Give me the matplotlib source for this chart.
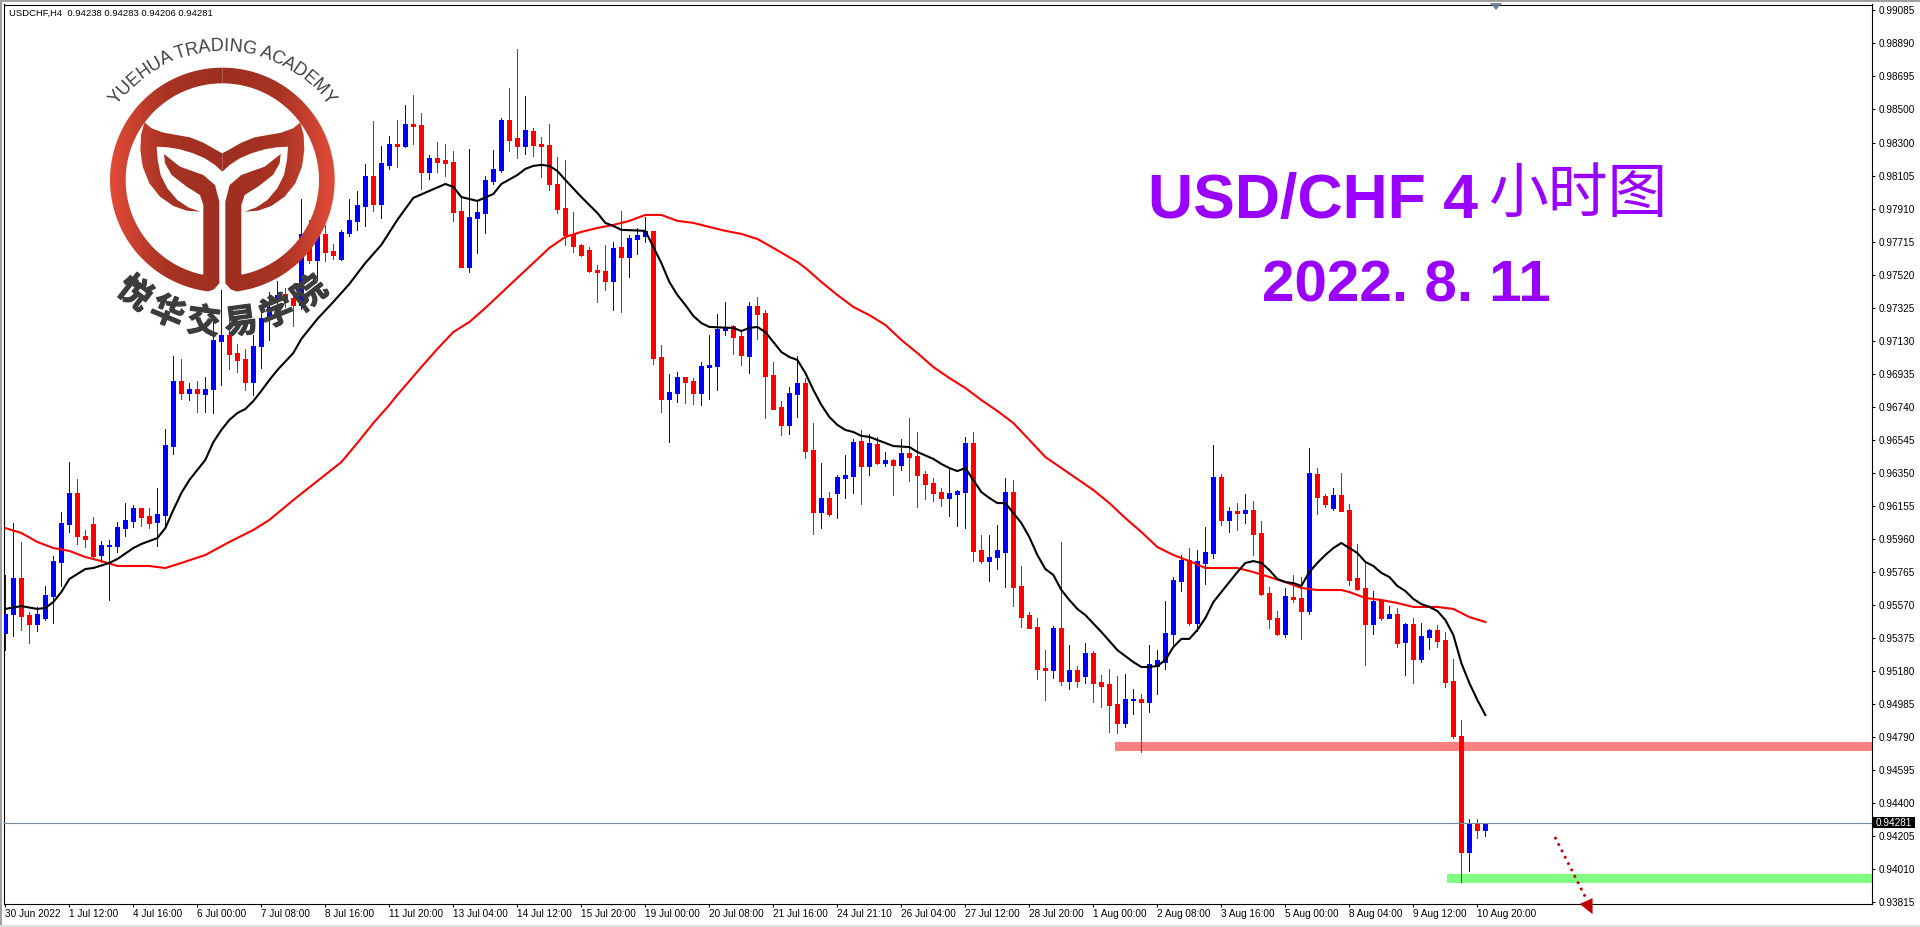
import numpy as np
import matplotlib
matplotlib.use("Agg")
import matplotlib.pyplot as plt
import matplotlib.patheffects as pe
from matplotlib.patches import Polygon, Rectangle
from matplotlib.colors import LinearSegmentedColormap
from matplotlib.textpath import TextPath
from matplotlib.font_manager import FontProperties

# ---- prices, in 1/100000 ----
highs = [95747,96054,95942,95528,95558,95682,95859,96119,96414,96314,
96013,96089,95948,95954,96060,96172,96160,96143,96143,96261,
96610,97041,97023,96882,96893,96917,97283,97432,97313,97112,
97083,97165,97319,97420,97485,97443,97443,97970,97846,97787,
97816,97704,97787,97970,98017,98177,98431,98283,98342,98437,
98525,98584,98478,98230,98306,98295,98253,97976,98265,97952,
98106,98259,98449,98626,98856,98578,98389,98336,98413,98218,
98200,97893,97704,97686,97579,97698,97715,97899,97757,97798,
97863,97781,97106,96935,96947,96917,96911,97006,97165,97289,
97361,97225,97195,97361,97390,97313,97006,96775,96858,97041,
96911,96645,96409,96237,96338,96456,96551,96604,96581,96563,
96474,96433,96551,96675,96592,96361,96320,96261,96373,96249,
96563,96592,95983,95983,96042,96320,96308,95800,95528,95492,
95303,95445,95942,95333,95209,95345,95298,95155,95191,95150,
95161,95073,95043,95333,95303,95593,95735,95865,95906,95895,
96030,96515,96344,96149,96172,96225,96184,96066,95676,95534,
95670,95747,95735,96497,96379,96225,96261,96350,96166,95930,
95824,95652,95599,95563,95552,95463,95492,95463,95428,95451,
95410,95250,94890,94304,94304,94283]
opens = [95404,95516,95729,95510,95457,95492,95622,95824,96048,96231,
95977,96048,95865,95918,95918,96024,96066,96143,96095,96060,
96101,96509,96893,96823,96846,96817,96846,97130,97165,97059,
97023,96888,97100,97266,97372,97408,97384,97343,97757,97609,
97763,97662,97615,97769,97840,97928,98106,97940,98171,98295,
98283,98413,98407,98129,98212,98200,98188,97899,97568,97857,
97887,98076,98141,98437,98330,98283,98372,98295,98289,98058,
97917,97763,97698,97668,97550,97544,97485,97686,97626,97733,
97751,97781,97035,96787,96823,96917,96893,96823,96976,96982,
97195,97219,97160,97041,97337,97295,96929,96740,96634,96817,
96882,96486,96119,96202,96231,96320,96332,96538,96391,96521,
96409,96427,96397,96468,96450,96344,96291,96237,96202,96225,
96237,96527,95895,95829,95853,95883,96237,95682,95510,95439,
95197,95185,95433,95120,95185,95150,95286,95114,95102,94984,
94872,95008,95014,94996,95209,95232,95398,95711,95835,95463,
95818,95877,96326,96072,96125,96113,96131,95995,95640,95492,
95398,95617,95611,95534,96344,96214,96143,96219,96131,95729,
95670,95457,95599,95492,95516,95351,95457,95250,95380,95422,
95362,95120,94795,94109,94281,94238]
lows = [95303,95386,95422,95345,95416,95481,95463,95682,96001,95930,
95912,95841,95824,95599,95883,95977,96030,96036,96024,95918,
96042,96462,96787,96781,96710,96710,96704,96870,96965,96947,
96841,96811,96970,97136,97331,97331,97219,97319,97591,97491,
97603,97615,97609,97751,97787,97810,97899,97857,98147,98159,
98277,98295,98029,98088,98129,98106,97840,97568,97538,97650,
97769,98058,98129,98253,98212,98235,98224,98100,98023,97887,
97698,97656,97632,97538,97361,97431,97313,97301,97508,97644,
97715,96994,96710,96532,96770,96764,96757,96752,96787,96841,
97165,97053,96988,96941,97142,96675,96728,96575,96581,96681,
96439,95989,96024,96095,96083,96202,96231,96166,96338,96403,
96391,96219,96367,96302,96149,96196,96184,96155,96095,96036,
96024,95829,95818,95711,95782,95676,95563,95439,95433,95132,
95008,95138,95096,95073,95085,95108,94996,94967,94819,94813,
94848,94925,94700,94937,95043,95191,95339,95652,95451,95416,
95693,95847,96042,96001,96013,96054,95865,95628,95433,95392,
95380,95587,95369,95516,96107,96149,96131,96125,95688,95658,
95215,95398,95481,95492,95321,95155,95108,95232,95309,95321,
95085,94783,93931,93997,94192,94206]
closes = [95516,95729,95504,95457,95516,95628,95829,96054,96231,95977,
95959,95859,95924,95924,96030,96072,96143,96089,96054,96107,
96515,96893,96823,96846,96823,96846,97136,97165,97053,97018,
96888,97100,97266,97331,97402,97384,97343,97763,97609,97751,
97656,97638,97775,97846,97934,98106,97940,98183,98295,98283,
98413,98401,98129,98212,98188,98183,97893,97568,97863,97893,
98082,98147,98437,98318,98283,98377,98289,98283,98058,97911,
97757,97692,97638,97544,97538,97485,97680,97626,97739,97757,
97781,97030,96787,96829,96917,96888,96823,96982,96988,97201,
97213,97154,97047,97337,97289,96923,96728,96634,96823,96882,
96480,96119,96202,96107,96326,96338,96532,96391,96527,96409,
96427,96397,96468,96444,96338,96285,96231,96202,96231,96243,
96527,95889,95829,95853,95895,96237,95676,95498,95433,95191,
95185,95433,95120,95185,95120,95286,95108,95091,94978,94872,
95014,95014,94996,95220,95244,95404,95717,95835,95463,95829,
95883,96326,96072,96125,96113,96131,95989,95634,95487,95398,
95622,95605,95534,96350,96208,96166,96219,96125,95717,95664,
95457,95593,95492,95516,95345,95457,95250,95386,95422,95357,
95114,94795,94109,94281,94239,94281]

ma_fast_idx = [0,2,4,5,6,7,8,10,11,13,14,16,17,19,20,21,22,23,25,26,27,28,29,30,31,32,33,34,36,37,38,39,41,43,45,47,49,51,53,55,56,57,59,61,62,64,65,66,67,68,69,70,72,74,75,76,77,80,81,82,83,84,85,86,87,88,91,92,93,94,95,96,97,98,99,100,101,102,103,104,105,106,107,108,110,111,113,114,116,117,118,119,120,121,122,123,124,125,126,127,128,129,130,131,132,133,134,135,137,139,141,142,143,144,145,146,147,148,149,150,151,152,153,154,155,156,157,158,159,160,161,162,163,164,165,166,167,168,169,170,171,172,173,174,175,176,177,178,179,180,181,182,183,184,185]
ma_fast_val = [95546,95563,95546,95552,95587,95646,95723,95782,95788,95818,95841,95906,95930,95965,96024,96131,96231,96308,96427,96532,96604,96663,96704,96728,96775,96835,96899,96958,97059,97142,97201,97260,97361,97467,97591,97698,97846,97976,98017,98058,98041,97981,97958,97999,98058,98111,98147,98165,98171,98165,98135,98082,97981,97887,97828,97810,97787,97781,97686,97591,97479,97402,97343,97278,97236,97213,97207,97189,97207,97213,97183,97124,97065,97035,97018,96941,96841,96752,96681,96634,96604,96592,96569,96563,96527,96509,96503,96474,96433,96403,96379,96361,96379,96308,96237,96202,96172,96172,96113,96054,95971,95865,95782,95747,95658,95599,95546,95510,95410,95303,95232,95203,95203,95209,95244,95321,95369,95369,95422,95492,95587,95646,95705,95764,95818,95829,95818,95776,95723,95705,95699,95682,95764,95818,95865,95906,95936,95906,95877,95824,95800,95759,95735,95682,95652,95605,95575,95558,95534,95481,95392,95226,95108,95008,94919]
ma_slow_idx = [0,2,4,6,8,10,12,14,18,20,22,25,28,31,33,36,39,42,44,46,48,49,52,54,56,58,60,62,64,66,68,70,72,74,76,78,80,82,84,86,88,90,92,94,96,99,100,102,104,106,108,110,112,114,116,118,120,122,124,126,128,130,132,134,136,138,140,142,144,146,148,150,154,156,158,160,162,164,167,168,170,172,174,176,179,181,183,185]
ma_slow_val = [96024,95995,95942,95906,95889,95853,95829,95800,95800,95788,95818,95865,95942,96013,96072,96190,96302,96414,96527,96645,96752,96811,96976,97083,97183,97242,97325,97414,97503,97591,97680,97745,97775,97798,97816,97840,97875,97875,97840,97828,97804,97781,97763,97733,97680,97597,97562,97479,97402,97331,97283,97225,97136,97059,96976,96911,96852,96781,96716,96645,96545,96444,96379,96314,96249,96172,96083,96001,95912,95865,95829,95788,95788,95764,95735,95705,95670,95658,95658,95646,95611,95599,95581,95558,95558,95546,95498,95469]

date_labels = ["30 Jun 2022","1 Jul 12:00","4 Jul 16:00","6 Jul 00:00","7 Jul 08:00","8 Jul 16:00",
"11 Jul 20:00","13 Jul 04:00","14 Jul 12:00","15 Jul 20:00","19 Jul 00:00","20 Jul 08:00",
"21 Jul 16:00","24 Jul 21:10","26 Jul 04:00","27 Jul 12:00","28 Jul 20:00","1 Aug 00:00",
"2 Aug 08:00","3 Aug 16:00","5 Aug 00:00","8 Aug 04:00","9 Aug 12:00","10 Aug 20:00"]
price_labels = ["0.99085","0.98890","0.98695","0.98500","0.98300","0.98105","0.97910","0.97715","0.97520",
"0.97325","0.97130","0.96935","0.96740","0.96545","0.96350","0.96155","0.95960","0.95765","0.95570",
"0.95375","0.95180","0.94985","0.94790","0.94595","0.94400","0.94205","0.94010","0.93815"]
last_price = 0.94281
resistance_band = (0.94759, 0.94706, 138.7)
support_band = (0.93979, 0.93926, 180.2)

FONT = "Liberation Sans"
W, H = 1920, 927
fig = plt.figure(figsize=(W/100, H/100), dpi=100, facecolor="white")
ax = fig.add_axes([4/W, (H-904)/H, (1872-4)/W, (904-4.5)/H])
xs = np.arange(len(opens))
o, h, l, c = [np.array(a)/1e5 for a in (opens, highs, lows, closes)]
x_min, x_max = -0.166, 233.33
ax.set_xlim(x_min, x_max)
ax.set_ylim(0.93802, 0.99119)

for top, bot, start, col in [(*resistance_band, "#ff8080"), (*support_band, "#80ff80")]:
    ax.fill_between([start, x_max], bot, top, color=col, linewidth=0, zorder=1.5)

cols = np.where(c >= o, "#0000ff", "#ff0000")
ax.vlines(xs, l, h, colors=cols, linewidth=0.72, antialiased=False, zorder=2)
ax.bar(xs, np.abs(c-o), bottom=np.minimum(o, c), width=0.5, color=cols, edgecolor=cols,
       linewidth=0.72, antialiased=False, zorder=3)
ax.plot(ma_slow_idx, np.array(ma_slow_val)/1e5, color="#ff0000", lw=1.5, zorder=4)
ax.plot(ma_fast_idx, np.array(ma_fast_val)/1e5, color="#000000", lw=1.5, zorder=5)
ax.axhline(last_price, color="#778899", lw=0.8, zorder=6)

# forecast arrow
ax.plot([193.7, 197.5], [0.94198, 0.93843], color="#c00000", lw=1.9, ls=(0, (1, 1.7)), zorder=7, clip_on=False)
ax.add_patch(Polygon([(196.8, 0.93802), (198.4, 0.93837), (198.4, 0.93742)], closed=True,
                     fc="#c00000", ec="none", zorder=8, clip_on=False))

ax.set_xticks(xs[::8][:len(date_labels)])
ax.set_xticklabels(date_labels, ha="left", fontfamily=FONT, fontsize=7.2, color="black")
ax.set_yticks([float(t) for t in price_labels])
ax.set_yticklabels(price_labels, fontfamily=FONT, fontsize=7.2, color="black")
ax.tick_params(axis="x", length=2.2, width=0.72, pad=1.5)
ax.tick_params(axis="y", length=2.2, width=0.72, pad=2.5, left=False, labelleft=False, right=True, labelright=True)
for s in ax.spines.values():
    s.set_linewidth(0.8); s.set_color("black")

ax.text(5/1868, 1-8.5/899.5, "USDCHF,H4  0.94238 0.94283 0.94206 0.94281", transform=ax.transAxes,
        fontfamily=FONT, fontsize=6.8, color="black", va="center", ha="left")

# overlay in figure pixels: logo, title, window frame
ov = fig.add_axes([0, 0, 1, 1], zorder=20)
ov.set_xlim(0, W); ov.set_ylim(H, 0); ov.axis("off"); ov.patch.set_alpha(0)
for (x0, y0, w0, h0, col) in [(0, 0, W, 2, "#a0a0a0"), (0, 0, 2, H, "#a0a0a0"), (0, 925, W, 2, "#e0e0e0")]:
    ov.add_patch(Rectangle((x0, y0), w0, h0, fc=col, ec="none"))
ov.add_patch(Polygon([(1490, 3), (1502, 3), (1496, 10)], fc="#6f8299", ec="none"))
ov.add_patch(Rectangle((1873, 817), 42, 11, fc="black", ec="none"))
ov.text(1894, 822.7, "0.94281", color="white", fontsize=7.2, fontfamily=FONT, va="center", ha="center")

zp = lambda pts: [(90 + a/3, 20 + b/3) for a, b in pts]
mir = lambda pts: [(794 - a, b) for a, b in pts]
CX, CY, RO, RI = 397, 480, 337, 290
ang = lambda t0, t1, r: [(CX + r*np.sin(t), CY - r*np.cos(t)) for t in np.linspace(t0, t1, 90)]
phi_o, phi_i = np.arctan(42/332), np.arctan(57/280)
stem = [(372,808),(388,790),(388,545),(375,495),(340,465),(270,440),(222,402),(225,430),(245,465),(290,500),(330,525),(340,555),(340,760)]
ring_half = ang(0, -(np.pi-phi_o), RO) + stem + ang(-(np.pi-phi_i), 0, RI)
fluke = [(163,307),(185,325),(220,338),(260,345),(300,352),(340,368),(375,388),(397,400),(397,455),(375,435),(345,415),(310,400),(270,388),(235,382),(200,380),(203,420),(212,465),(232,505),(262,540),(295,562),(330,575),(290,572),(250,558),(210,530),(178,490),(158,440),(151,390),(153,345)]
cmap = LinearSegmentedColormap.from_list("logo", ["#9e2f20", "#a83323", "#e24b39"])
grad = np.abs(np.linspace(-1, 1, 400))[None, :]
for shape in (ring_half, mir(ring_half), fluke, mir(fluke)):
    patch = Polygon(zp(shape), closed=True, fc="none", ec="none")
    ov.add_patch(patch)
    im = ov.imshow(grad, cmap=cmap, vmin=0, vmax=1, extent=(110, 335, 295, 65), aspect="auto", zorder=2)
    im.set_clip_path(patch)
ov.set_xlim(0, W); ov.set_ylim(H, 0)

LX, LY = 222.3, 180
txt = "YUEHUA TRADING ACADEMY"
fp = FontProperties(family=FONT)
bar_w = TextPath((0, 0), "|", size=18, prop=fp).get_extents().x1
wid = lambda s: TextPath((0, 0), s + "|", size=18, prop=fp).get_extents().x1 - bar_w
mids = np.array([(wid(txt[:i]) + wid(txt[:i+1]))/2 for i in range(len(txt))])
mids = (mids - (mids[0]+mids[-1])/2) / (mids[-1]-mids[0])
for ch, m in zip(txt, mids):
    a = np.radians(104*m)
    ov.text(LX + 133.5*np.sin(a), LY - 133.5*np.cos(a), ch, rotation=-np.degrees(a), rotation_mode="anchor",
            ha="center", va="center", fontfamily=FONT, fontsize=13, color="#404040", zorder=3)
for ch, d in zip("悦华交易学院", [37.7, 22.5, 7.5, -7.5, -22.5, -37.7]):
    a = np.radians(d)
    t = ov.text(LX - 144*np.sin(a), LY + 144*np.cos(a), ch, rotation=-d, rotation_mode="anchor",
                ha="center", va="center", fontfamily="Noto Sans CJK SC", fontweight="bold", fontsize=24,
                color="#3c3c3c", zorder=3)
    t.set_path_effects([pe.withStroke(linewidth=0.9, foreground="#3c3c3c")])

PURPLE = "#9900ff"
ov.text(1148, 218, "USD/CHF 4", fontfamily=FONT, fontweight="bold", fontsize=45, color=PURPLE, ha="left", va="baseline")
ov.text(1578, 195, "小时图", fontfamily="Noto Sans CJK SC", fontsize=43, color=PURPLE, ha="center", va="center")
ov.text(1406, 301, "2022. 8. 11", fontfamily=FONT, fontweight="bold", fontsize=42, color=PURPLE, ha="center", va="baseline")

fig.savefig("out.png", dpi=100, facecolor="white")
